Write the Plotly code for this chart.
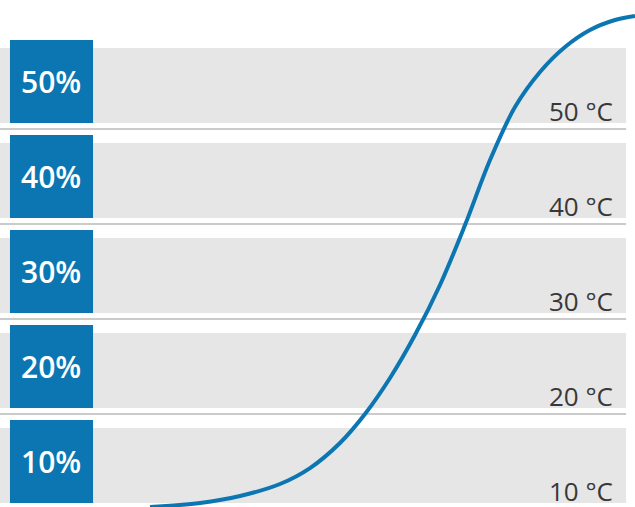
import plotly.graph_objects as go

# ---- data ----
levels = [10, 20, 30, 40, 50]                      # band levels (%)
pct_labels = ["10%", "20%", "30%", "40%", "50%"]
temp_labels = ["10 °C", "20 °C", "30 °C", "40 °C", "50 °C"]

curve_x = [23.62, 31.50, 37.80, 44.09, 48.82, 53.54, 57.48, 61.42, 65.35,
           69.29, 73.23, 77.17, 81.10, 85.04, 88.98, 92.91, 96.85, 100.0]
curve_y = [-0.42, 0.0, 0.74, 2.0, 3.68, 6.32, 9.37, 13.16, 17.68,
           22.95, 29.26, 36.11, 41.68, 45.37, 48.0, 49.79, 50.84, 51.26]

BLUE = "#0b76b2"
BAND = "#e6e6e6"
SEP = "#cbcbcb"

fig = go.Figure()

shapes = []
annotations = []
for lv, pl, tl in zip(levels, pct_labels, temp_labels):
    base = lv - 10
    # gray band
    shapes.append(dict(type="rect", xref="x", yref="y", x0=0, x1=98.6,
                       y0=base, y1=base + 7.9, fillcolor=BAND,
                       line=dict(width=0), layer="below"))
    # separator line below band
    shapes.append(dict(type="line", xref="x", yref="y", x0=0, x1=98.6,
                       y0=base - 0.63, y1=base - 0.63,
                       line=dict(color=SEP, width=2), layer="below"))
    # blue square
    shapes.append(dict(type="rect", xref="x", yref="y", x0=1.57, x1=14.65,
                       y0=base, y1=base + 8.74, fillcolor=BLUE,
                       line=dict(width=0), layer="below"))
    annotations.append(dict(x=8.1, y=base + 4.37, xref="x", yref="y",
                            text=pl, showarrow=False,
                            xanchor="center", yanchor="middle",
                            font=dict(family="Open Sans", size=30,
                                      color="white", weight=600)))
    annotations.append(dict(x=96.9, y=base + 1.3, xref="x", yref="y",
                            text=tl, showarrow=False,
                            xanchor="right", yanchor="middle",
                            font=dict(family="Open Sans", size=26,
                                      color="#383838", weight=400)))

fig.add_trace(go.Scatter(x=curve_x, y=curve_y, mode="lines",
                         line=dict(color=BLUE, width=4, shape="spline",
                                   smoothing=1.0),
                         hoverinfo="skip", showlegend=False))

fig.update_layout(
    width=635, height=507,
    margin=dict(l=0, r=0, t=0, b=0),
    paper_bgcolor="white", plot_bgcolor="white",
    shapes=shapes, annotations=annotations,
    xaxis=dict(range=[0, 100], visible=False, fixedrange=True),
    yaxis=dict(range=[-0.42, 52.95], visible=False, fixedrange=True),
    showlegend=False,
)

fig.write_html("out.html", config={"displayModeBar": False},
               post_script="document.body.style.margin='0';"
                           "document.body.style.padding='0';")
